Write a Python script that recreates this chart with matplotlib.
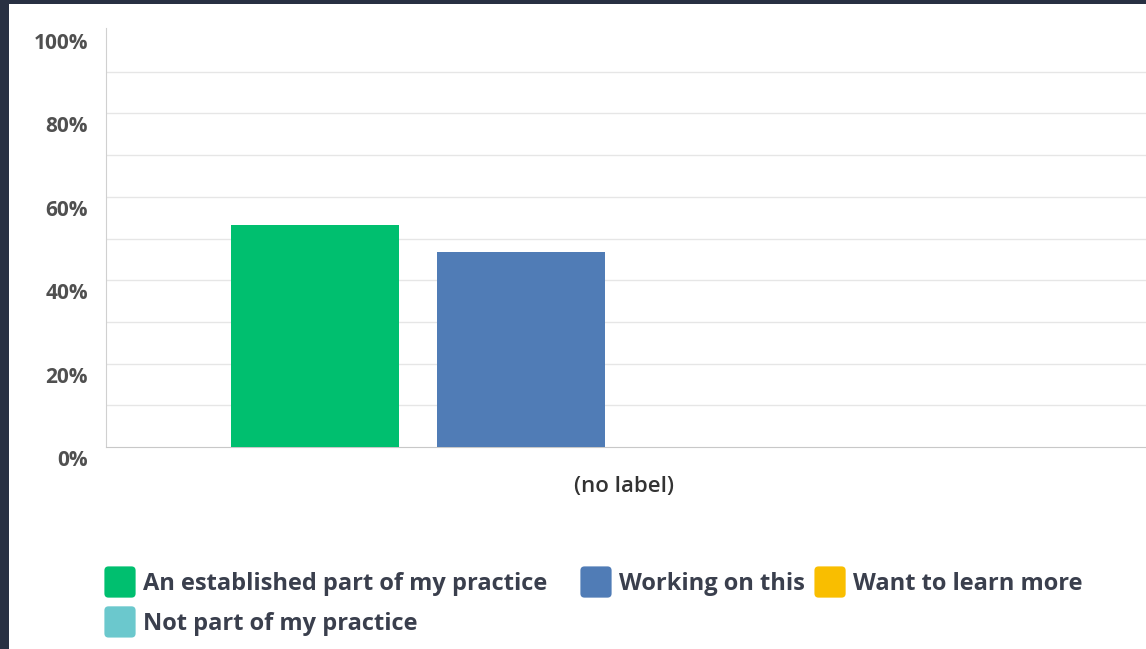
import matplotlib
matplotlib.use('Agg')
import matplotlib.pyplot as plt
from matplotlib.patches import Rectangle, FancyBboxPatch
from matplotlib.legend_handler import HandlerPatch
from matplotlib.transforms import ScaledTranslation

# --- data ---
category = '(no label)'
series = ['An established part of my practice', 'Working on this',
          'Want to learn more', 'Not part of my practice']
values = [53.33, 46.67, 0.0, 0.0]
colors = ['#00bf6f', '#507cb6', '#f9be00', '#6bc8cd']
y_ticks = [0, 20, 40, 60, 80, 100]
y_tick_labels = ['0%', '20%', '40%', '60%', '80%', '100%']

plt.rcParams['font.family'] = ['Open Sans', 'DejaVu Sans']

W, H = 1146, 649
fig = plt.figure(figsize=(W / 100, H / 100), dpi=100)
fig.patch.set_facecolor('#283042')

# white card behind the chart
fig.patches.append(Rectangle((9 / W, 0), 1 - 9 / W, 1 - 4 / H,
                             transform=fig.transFigure, facecolor='white',
                             edgecolor='none', zorder=-5))

ax = fig.add_axes([106 / W, (H - 447) / H, 1 - 106 / W, (447 - 28) / H])
ax.set_facecolor('none')

width = 0.1615
step = 0.198
for i, (name, val, col) in enumerate(zip(series, values, colors)):
    ax.bar(0 + (i - 1.5) * step, val, width=width, color=col,
           edgecolor='none', zorder=3)

ax.set_xlim(-0.498, 0.502)
ax.set_ylim(0, 100.5)
ax.set_xticks([0])
ax.set_xticklabels([category], fontsize=16, fontweight='semibold', color='#333333')
ax.tick_params(axis='x', length=0, pad=21)

ax.set_yticks(y_ticks)
ax.set_yticklabels(y_tick_labels, fontsize=15, fontweight='bold', color='#505050')
ax.tick_params(axis='y', length=0, pad=13)
shift = ScaledTranslation(0, -11 / 100, fig.dpi_scale_trans)
for lbl in ax.get_yticklabels():
    lbl.set_transform(lbl.get_transform() + shift)

# gridlines every 10%
for g in range(10, 100, 10):
    ax.axhline(g, color='#e6e6e6', linewidth=1, zorder=1)

for s in ['top', 'right']:
    ax.spines[s].set_visible(False)
ax.spines['left'].set_color('#d0d0d0')
ax.spines['bottom'].set_color('#c8c8c8')


class RoundSwatch(HandlerPatch):
    def create_artists(self, legend, orig_handle, xdescent, ydescent,
                       width, height, fontsize, trans):
        p = FancyBboxPatch((-xdescent + 1, -ydescent + 1), width - 2, height - 2,
                           boxstyle='round,pad=0,rounding_size=3',
                           facecolor=orig_handle.get_facecolor(),
                           edgecolor='none', transform=trans)
        return [p]


swatches = [Rectangle((0, 0), 1, 1, facecolor=c) for c in colors]
leg_kw = dict(handler_map={Rectangle: RoundSwatch()}, loc='upper left',
              frameon=False, borderpad=0, borderaxespad=0,
              prop={'size': 17, 'weight': 'bold'},
              handlelength=1.44, handleheight=1.84, handletextpad=0.25,
              labelspacing=0.25)

# first column wraps onto a second row, the other two follow on row one
leg1 = fig.legend([swatches[0], swatches[3]], [series[0], series[3]],
                  bbox_to_anchor=(103 / W, 1 - 565 / H), **leg_kw)
leg2 = fig.legend([swatches[1], swatches[2]], [series[1], series[2]],
                  bbox_to_anchor=(579 / W, 1 - 565 / H), ncol=2,
                  columnspacing=0.35, **leg_kw)
for leg in (leg1, leg2):
    for t in leg.get_texts():
        t.set_color('#3a3f4d')

fig.savefig('out.png', dpi=100)
